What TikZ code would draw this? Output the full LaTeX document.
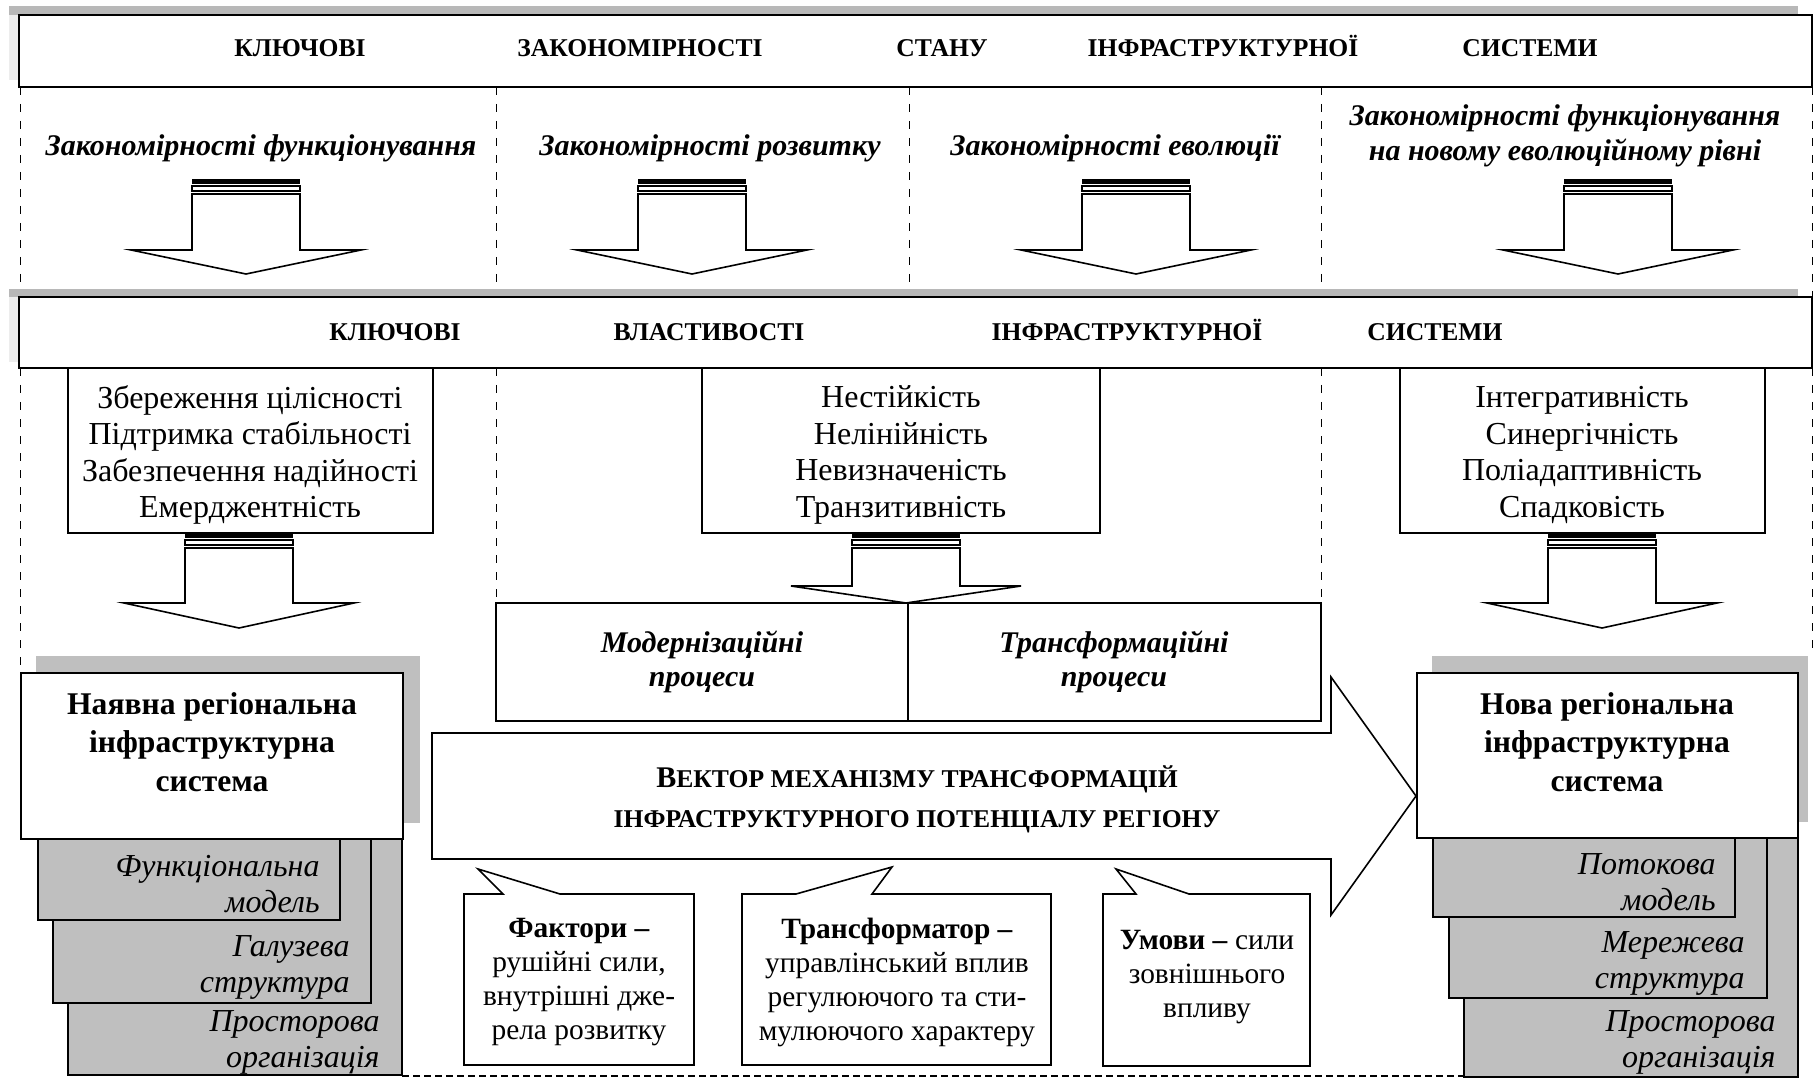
\documentclass[tikz,border=0pt]{standalone}
\usepackage{fontspec}
\setmainfont{Liberation Serif}

\begin{document}
\begin{tikzpicture}
	[   x=0.5pt,y=-0.5pt,
		box/.style={draw=black,fill=white,line width=0.8pt},
		gbox/.style={draw=black,fill=black!25,line width=0.6pt},
		shade/.style={fill=black!25},
		dline/.style={draw=black,line width=0.5pt,dash pattern=on 4pt off 4.5pt},
		barrow/.style={draw=black,fill=white,line width=0.8pt},
		hdr/.style={font=\fontsize{12.8}{15}\selectfont\bfseries,anchor=base,inner sep=0pt},
		law/.style={font=\fontsize{15}{17.5}\selectfont\bfseries\itshape,align=center,inner sep=0pt},
		prop/.style={font=\fontsize{16}{18.3}\selectfont,align=center,inner sep=0pt},
		sys/.style={font=\fontsize{15.8}{19.3}\selectfont\bfseries,align=center,inner sep=0pt},
		stk/.style={font=\fontsize{16}{18}\selectfont\itshape,align=right,anchor=east,inner sep=0pt},
		call/.style={font=\fontsize{14.7}{17}\selectfont,align=center,inner sep=0pt},
		vec/.style={font=\fontsize{12.8}{20}\selectfont\bfseries,align=center,inner sep=0pt},
	]
	\useasboundingbox (0,0) rectangle (1814,1080);
	
	% dashed frame
	\foreach \x in {20,496,909,1321,1812}
	{
		\draw[dline] (\x,87) -- (\x,297);
	}
	\draw[dline] (20,368) -- (20,673);
	\draw[dline] (496,368) -- (496,603);
	\draw[dline] (1321,368) -- (1321,603);
	\draw[dline] (1812,368) -- (1812,656);
	\draw[dline,line width=1pt,dash pattern=on 3.5pt off 2pt] (402,1076) -- (1464,1076);
	
	% headers
	\fill[black!28] (9,6) rectangle (1798,15);
	\fill[black!7] (9,15) rectangle (19,80);
	\fill[black!28] (9,289) rectangle (1798,297);
	\fill[black!7] (9,297) rectangle (19,362);
	\draw[box,line width=1pt] (19,15) rectangle (1812,87);
	\draw[box,line width=1pt] (19,297) rectangle (1812,368);
	
	\foreach \x/\w [count=\i] in {300/КЛЮЧОВІ,640/ЗАКОНОМІРНОСТІ,942/СТАНУ,1223/ІНФРАСТРУКТУРНОЇ,1530/СИСТЕМИ}
	{
		\node[hdr] (h-\i) at (\x,57) {\w};
	}
	\foreach \x/\w [count=\i] in {395/КЛЮЧОВІ,709/ВЛАСТИВОСТІ,1127/ІНФРАСТРУКТУРНОЇ,1435/СИСТЕМИ}
	{
		\node[hdr] (k-\i) at (\x,341) {\w};
	}
	
	\node[law] (z-1) at (261,148) {Закономірності функціонування};
	\node[law] (z-2) at (710,148) {Закономірності розвитку};
	\node[law] (z-3) at (1115,148) {Закономірності еволюції};
	\node[law] (z-4) at (1565,136) {Закономірності функціонування\\на новому еволюційному рівні};
	
	% properties
	\draw[box] (68,368) rectangle (433,533);
	\draw[box] (702,368) rectangle (1100,533);
	\draw[box] (1400,368) rectangle (1765,533);
	\node[prop] (p-1) at (250,455) {Збереження цілісності\\Підтримка стабільності\\Забезпечення надійності\\Емерджентність};
	\node[prop] (p-2) at (901,455) {Нестійкість\\Нелінійність\\Невизначеність\\Транзитивність};
	\node[prop] (p-3) at (1582,455) {Інтегративність\\Синергічність\\Поліадаптивність\\Спадковість};
	
	% processes
	\draw[box] (496,603) rectangle (908,721);
	\draw[box] (908,603) rectangle (1321,721);
	\node[law,font=\fontsize{15}{17}\selectfont\bfseries\itshape] (m-1) at (702,662) {Модернізаційні\\процеси};
	\node[law,font=\fontsize{15}{17}\selectfont\bfseries\itshape] (m-2) at (1114,662) {Трансформаційні\\процеси};
	
	% block arrows
	\foreach \x/\y/\hb/\tp in {246/179/250/274,692/179/250/274,1136/179/250/274,1618/179/250/274,239/533/603/628,906/533/586/603,1602/533/603/628}
	{
		\fill (\x-54,\y) rectangle (\x+54,\y+5);
		\draw[line width=0.6pt] (\x-54,\y+7) rectangle (\x+54,\y+12);
		\draw[barrow] (\x-54,\y+15) -- (\x+54,\y+15) -- (\x+54,\hb) -- (\x+115,\hb) -- (\x,\tp) -- (\x-115,\hb) -- (\x-54,\hb) -- cycle;
	}
	
	% vector
	\draw[box] (432,733) -- (1331,733) -- (1331,677) -- (1416,796) -- (1331,915) -- (1331,859) -- (432,859) -- cycle;
	\node[vec] (v) at (917,799) {{\fontsize{15}{20}\selectfont В}ЕКТОР МЕХАНІЗМУ ТРАНСФОРМАЦІЙ\\ІНФРАСТРУКТУРНОГО ПОТЕНЦІАЛУ РЕГІОНУ};
	
	% callouts
	\draw[box] (464,894) -- (503,894) -- (478,869) -- (560,894) -- (694,894) -- (694,1065) -- (464,1065) -- cycle;
	\draw[box] (742,894) -- (796,894) -- (892,867) -- (872,894) -- (1051,894) -- (1051,1065) -- (742,1065) -- cycle;
	\draw[box] (1103,894) -- (1136,894) -- (1116,869) -- (1189,894) -- (1310,894) -- (1310,1066) -- (1103,1066) -- cycle;
	\node[call] (c-1) at (579,982) {\textbf{Фактори –}\\рушійні сили,\\внутрішні дже-\\рела розвитку};
	\node[call] (c-2) at (897,982) {\textbf{Трансформатор –}\\управлінський вплив\\регулюючого та сти-\\мулюючого характеру};
	\node[call] (c-3) at (1207,977) {\textbf{Умови –} сили\\зовнішнього\\впливу};
	
	% existing system
	\fill[shade] (36,656) rectangle (420,823);
	\draw[gbox] (68,839) rectangle (402,1075);
	\draw[gbox] (53,839) rectangle (371,1003);
	\draw[gbox] (38,839) rectangle (340,920);
	\draw[box] (21,673) rectangle (403,839);
	\node[sys] (s-1) at (212,742) {Наявна регіональна\\інфраструктурна\\система};
	\node[stk] (f-1) at (320,884) {Функціональна\\модель};
	\node[stk] (f-2) at (350,967) {Галузева\\структура};
	\node[stk] (f-3) at (380,1042) {Просторова\\організація};
	
	% new system
	\fill[shade] (1432,656) rectangle (1808,822);
	\draw[gbox] (1464,838) rectangle (1798,1077);
	\draw[gbox] (1449,838) rectangle (1767,998);
	\draw[gbox] (1433,838) rectangle (1735,917);
	\draw[box] (1417,673) rectangle (1798,838);
	\node[sys] (s-2) at (1607,742) {Нова регіональна\\інфраструктурна\\система};
	\node[stk] (n-1) at (1716,882) {Потокова\\модель};
	\node[stk] (n-2) at (1745,963) {Мережева\\структура};
	\node[stk] (n-3) at (1776,1042) {Просторова\\організація};

\end{tikzpicture}
\end{document}
